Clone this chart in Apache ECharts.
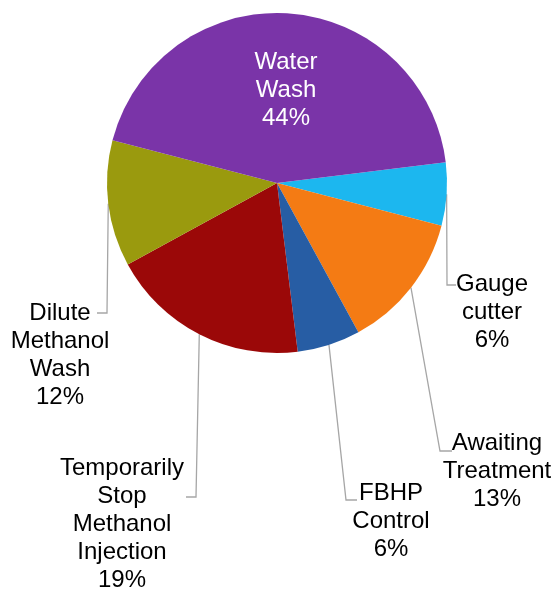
<!DOCTYPE html>
<html>
<head>
<meta charset="utf-8">
<script src="https://cdn.jsdelivr.net/npm/echarts@6/dist/echarts.min.js"></script>
<style>
  html, body { margin: 0; padding: 0; background: #ffffff; }
  #chart { width: 560px; height: 590px; }
</style>
</head>
<body>
<div id="chart"></div>
<script>
// ---- Data (clockwise from 3 o'clock) ----
const categories = ['Gauge cutter', 'Awaiting Treatment', 'FBHP Control',
  'Temporarily Stop Methanol Injection', 'Dilute Methanol Wash', 'Water Wash'];
const percentValues = [6, 13, 6, 19, 12, 44];

// ---- Styles / layout (not data) ----
const sliceColors = ['#1cb7ef', '#f47b14', '#275da4', '#9b0808', '#9a9a0e', '#7a34a8'];
// label block: centre x, top y; leader elbow and end
const labelSpots = [
  { x: 492, y: 270, elbow: [447, 285], end: [456, 285] },
  { x: 497, y: 429, elbow: [440, 451], end: [452, 451] },
  { x: 391, y: 479, elbow: [346, 500], end: [357, 500] },
  { x: 122, y: 454, elbow: [196, 497], end: [186, 497] },
  { x: 60,  y: 299, elbow: [107, 313], end: [97, 313] },
  { x: 286, y: 48,  elbow: null, end: null }
];

const chart = echarts.init(document.getElementById('chart'), null, { renderer: 'canvas' });

const seriesData = categories.map((name, i) => {
  const item = { name: name, value: percentValues[i], itemStyle: { color: sliceColors[i] } };
  if (name === 'Water Wash') {
    item.label = { color: '#ffffff' };
    item.labelLine = { show: false };
  }
  return item;
});

chart.setOption({
  animation: false,
  backgroundColor: '#ffffff',
  series: [{
    type: 'pie',
    center: [277, 183],
    radius: 170,
    startAngle: 7,
    clockwise: true,
    avoidLabelOverlap: false,
    itemStyle: { borderWidth: 0 },
    label: {
      show: true,
      position: 'outside',
      fontFamily: 'Liberation Sans, Arial, sans-serif',
      fontSize: 24,
      lineHeight: 28,
      color: '#000000',
      align: 'center',
      formatter: function (p) {
        return p.name.split(' ').join('\n') + '\n' + p.value + '%';
      }
    },
    labelLine: {
      show: true,
      lineStyle: { color: '#a6a6a6', width: 1.3 }
    },
    labelLayout: function (params) {
      const s = labelSpots[params.dataIndex];
      const out = { x: s.x, y: s.y, align: 'center', verticalAlign: 'top' };
      if (s.elbow && params.labelLinePoints) {
        out.labelLinePoints = [params.labelLinePoints[0], s.elbow, s.end];
      }
      return out;
    },
    data: seriesData
  }]
});
</script>
</body>
</html>
